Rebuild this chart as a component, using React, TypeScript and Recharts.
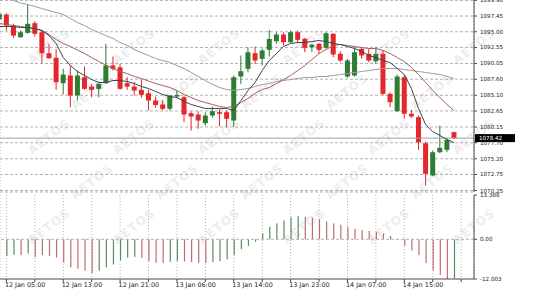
import React from 'react';
import { ComposedChart, Bar, Line, XAxis, YAxis, CartesianGrid, ReferenceLine } from 'recharts';

// ---- data (hourly bars, index 0 = 12 Jan 05:00) ----
const barIndex = [-1, 0, 1, 2, 3, 4, 5, 6, 7, 8, 9, 10, 11, 12, 13, 14, 15, 16, 17, 18, 19, 20, 21, 22, 23, 24, 25, 26, 27, 28, 29, 30, 31, 32, 33, 34, 35, 36, 37, 38, 39, 40, 41, 42, 43, 44, 45, 46, 47, 48, 49, 50, 51, 52, 53, 54, 55, 56, 57, 58, 59, 60, 61, 62, 63];

const opens = [1096.91, 1097.69, 1095.97, 1094.15, 1094.83, 1096.33, 1094.93, 1091.65, 1090.94, 1086.98,
  1088.18, 1085.06, 1087.91, 1086.46, 1086.10, 1086.98, 1089.74, 1089.47, 1086.98, 1086.46,
  1085.95, 1085.42, 1084.28, 1083.66, 1082.99, 1084.90, 1084.79, 1082.30, 1082.10, 1080.74,
  1081.94, 1082.46, 1082.46, 1081.16, 1088.02, 1089.22, 1091.65, 1090.78, 1092.18, 1093.52,
  1094.57, 1093.37, 1094.93, 1093.90, 1092.59, 1093.12, 1092.50, 1094.68, 1091.56, 1088.02,
  1088.18, 1092.34, 1091.56, 1090.41, 1091.56, 1085.32, 1082.61, 1087.91, 1082.21, 1081.68,
  1077.62, 1072.59, 1076.22, 1076.59, 1079.34];

const highs = [1098.00, 1097.89, 1096.24, 1095.19, 1099.24, 1096.64, 1095.30, 1093.12, 1092.34, 1089.22,
  1089.74, 1088.96, 1089.58, 1086.88, 1086.98, 1093.12, 1091.14, 1090.00, 1087.91, 1087.13,
  1087.51, 1085.95, 1084.90, 1084.39, 1085.10, 1085.84, 1085.06, 1082.61, 1082.61, 1082.46,
  1083.34, 1082.99, 1082.72, 1088.18, 1091.30, 1092.59, 1092.70, 1092.39, 1095.30, 1094.93,
  1094.93, 1095.19, 1095.19, 1094.05, 1093.12, 1093.21, 1094.93, 1094.77, 1091.97, 1090.78,
  1092.59, 1092.59, 1092.34, 1092.59, 1092.08, 1085.53, 1088.33, 1088.18, 1082.83, 1081.94,
  1077.89, 1076.49, 1080.38, 1078.40, 1079.45];

const lows = [1096.75, 1095.19, 1094.05, 1094.05, 1094.68, 1094.26, 1090.09, 1090.78, 1085.95, 1085.22,
  1083.24, 1084.28, 1085.95, 1084.79, 1084.79, 1086.88, 1088.96, 1085.95, 1085.95, 1085.06,
  1084.70, 1082.72, 1083.14, 1082.72, 1082.72, 1084.70, 1080.90, 1079.60, 1079.87, 1080.38,
  1081.58, 1080.23, 1080.12, 1080.12, 1086.88, 1088.69, 1090.00, 1089.74, 1091.14, 1093.12,
  1092.85, 1093.21, 1093.21, 1091.81, 1091.81, 1091.56, 1092.34, 1091.03, 1090.25, 1087.82,
  1088.02, 1090.78, 1090.25, 1090.00, 1085.06, 1083.24, 1082.46, 1081.43, 1081.58, 1076.59,
  1071.03, 1072.45, 1076.06, 1076.22, 1078.30];

const closes = [1097.80, 1095.97, 1094.41, 1094.93, 1096.24, 1094.68, 1091.65, 1090.87, 1087.13, 1088.33,
  1085.06, 1088.18, 1086.10, 1085.95, 1086.88, 1089.74, 1089.22, 1086.10, 1086.46, 1085.84,
  1085.17, 1084.28, 1083.58, 1082.99, 1085.06, 1085.14, 1082.10, 1081.79, 1081.16, 1081.94,
  1082.61, 1082.21, 1081.43, 1087.91, 1088.85, 1091.81, 1090.52, 1092.08, 1093.87, 1094.57,
  1093.37, 1094.93, 1093.74, 1092.50, 1092.96, 1092.18, 1094.77, 1091.45, 1090.52, 1090.52,
  1091.81, 1091.30, 1090.52, 1091.56, 1085.32, 1084.02, 1088.02, 1082.21, 1081.79, 1077.78,
  1072.85, 1076.22, 1076.91, 1078.15, 1078.42];

const maFast = [1095.82, 1095.82, 1095.82, 1095.66, 1095.66, 1095.50, 1095.19, 1094.41, 1093.17, 1090.98,
  1089.74, 1088.80, 1088.18, 1087.55, 1087.09, 1087.09, 1087.40, 1087.40, 1087.24, 1086.93,
  1086.46, 1086.15, 1085.69, 1085.22, 1084.90, 1084.75, 1084.13, 1083.66, 1083.35, 1083.03,
  1083.03, 1083.03, 1083.03, 1082.72, 1084.28, 1085.84, 1087.09, 1088.96, 1090.52, 1091.61,
  1092.70, 1093.17, 1093.32, 1093.32, 1093.48, 1093.63, 1093.48, 1093.17, 1093.01, 1092.70,
  1092.39, 1091.92, 1091.30, 1090.98, 1090.52, 1090.20, 1089.27, 1088.33, 1086.15, 1083.03,
  1080.54, 1079.45, 1078.83, 1078.20, 1077.73];

const maMid = [1096.28, 1096.13, 1095.97, 1095.82, 1095.66, 1095.50, 1095.19, 1094.57, 1093.79, 1093.17,
  1092.70, 1092.15, 1091.61, 1090.98, 1090.36, 1089.81, 1089.27, 1088.80, 1088.49, 1088.02,
  1087.71, 1087.32, 1086.93, 1086.62, 1086.31, 1085.84, 1085.22, 1084.75, 1084.28, 1083.97,
  1083.66, 1083.35, 1083.19, 1083.35, 1083.97, 1084.59, 1085.37, 1086.00, 1086.31, 1086.93,
  1087.55, 1088.18, 1088.96, 1089.74, 1090.67, 1091.61, 1092.23, 1092.85, 1093.01, 1092.85,
  1092.70, 1092.54, 1092.39, 1092.39, 1092.08, 1091.61, 1090.98, 1090.36, 1089.43, 1088.33,
  1087.09, 1085.84, 1084.75, 1083.66, 1082.72];

const maSlow = [1100.49, 1100.18, 1099.87, 1099.48, 1099.25, 1098.93, 1098.62, 1098.31, 1098.00, 1097.69,
  1097.06, 1096.44, 1095.97, 1095.35, 1094.88, 1094.41, 1093.95, 1093.32, 1092.85, 1092.23,
  1091.76, 1091.30, 1090.83, 1090.52, 1090.20, 1089.74, 1089.27, 1088.65, 1088.02, 1087.40,
  1086.78, 1086.31, 1086.00, 1085.84, 1086.00, 1086.15, 1086.46, 1086.78, 1086.93, 1087.24,
  1087.40, 1087.55, 1087.71, 1087.87, 1087.87, 1088.02, 1088.02, 1088.18, 1088.33, 1088.49,
  1088.65, 1088.80, 1088.96, 1089.11, 1089.27, 1089.27, 1089.27, 1089.11, 1088.96, 1088.80,
  1088.65, 1088.49, 1088.33, 1088.02, 1087.71];

const oscValues = [null, -5.0, -4.7, -4.8, -4.3, -5.4, -4.8, -5.0, -5.5, -7.1,
  -8.5, -8.9, -9.5, -10.2, -9.5, -8.5, -7.6, -6.4, -5.5, -5.3,
  -5.7, -6.6, -7.1, -7.2, -6.8, -6.5, -6.7, -6.9, -7.1, -7.2,
  -6.9, -6.6, -6.1, -4.7, -3.0, -2.0, -0.7, 1.8, 3.7, 4.8,
  5.7, 6.6, 7.0, 6.8, 6.5, 6.1, 5.4, 4.8, 4.4, 3.8,
  3.2, 2.8, 2.5, 2.2, 1.8, 1.0, 0.1, -1.9, -3.4, -4.8,
  -7.2, -9.4, -10.8, -12.0, -11.9];

const oscColors = ['g', 'g', 'g', 'r', 'g', 'r', 'r', 'r', 'r', 'r',
  'r', 'r', 'r', 'r', 'g', 'g', 'g', 'g', 'g', 'g',
  'r', 'r', 'r', 'r', 'g', 'g', 'r', 'r', 'r', 'r',
  'g', 'g', 'g', 'g', 'g', 'g', 'g', 'g', 'g', 'g',
  'g', 'g', 'g', 'r', 'r', 'r', 'r', 'r', 'r', 'r',
  'r', 'r', 'r', 'r', 'r', 'r', 'r', 'r', 'r', 'r',
  'r', 'r', 'r', 'r', 'g'];

const priceTicks = [1099.90, 1097.45, 1095.00, 1092.55, 1090.05, 1087.60, 1085.10, 1082.65, 1080.15, 1077.70, 1075.20, 1072.75, 1070.25];
const oscTicks = [13.388, 0, -12.003];
const oscTickLabels = ['13.388', '0.00', '-12.003'];
const gridTicks = [0, 4, 8, 12, 16, 20, 24, 28, 32, 36, 40, 44, 48, 52, 56, 60, 64];
const timeLabels = ['12 Jan 05:00', '12 Jan 13:00', '12 Jan 21:00', '13 Jan 06:00', '13 Jan 14:00', '13 Jan 23:00', '14 Jan 07:00', '14 Jan 15:00'];
const lastPrice = 1078.42;

// ---- styling ----
const FONT = '"DejaVu Sans", "Liberation Sans", sans-serif';
const X_DOMAIN: [number, number] = [-0.903, 65.806];
const PRICE_DOMAIN: [number, number] = [1070.02, 1099.95];
const OSC_DOMAIN: [number, number] = [-12.003, 13.388];
const UP = '#2e7d32';
const DOWN = '#e5262b';
const OSC_UP = '#5b8c5b';
const OSC_DOWN = '#c06c6c';
const GRID = '#b2b2b2';
const AXIS = '#4a4a4a';

const candleData = barIndex.map((i, k) => ({
  i,
  open: opens[k],
  high: highs[k],
  low: lows[k],
  close: closes[k],
  range: [lows[k], highs[k]],
  fast: maFast[k],
  mid: maMid[k],
  slow: maSlow[k],
}));

const oscData = barIndex.map((i, k) => ({ i, osc: oscValues[k], col: oscColors[k] }));

const Candle = (props: any) => {
  const { x, y, width, height, payload } = props;
  if (x == null || y == null || !payload) return null;
  const { open, close, high, low } = payload;
  const span = high - low;
  const ppu = span > 0 ? height / span : 0;
  const yOf = (v: number) => y + (high - v) * ppu;
  const cx = x + width / 2;
  const color = close >= open ? UP : DOWN;
  const top = yOf(Math.max(open, close));
  const bot = yOf(Math.min(open, close));
  return (
    <g>
      <line x1={cx} x2={cx} y1={y} y2={y + height} stroke={color} strokeWidth={1} />
      <rect x={cx - 2.5} y={top} width={5} height={Math.max(1, bot - top)} fill={color} />
    </g>
  );
};

const OscBar = (props: any) => {
  const { x, y, width, height, payload } = props;
  if (x == null || y == null || !payload || payload.osc == null) return null;
  const top = Math.min(y, y + height);
  const h = Math.max(0.6, Math.abs(height));
  const cx = x + width / 2;
  return <rect x={cx - 0.6} y={top} width={1.2} height={h} fill={payload.col === 'g' ? OSC_UP : OSC_DOWN} />;
};

const PriceTag = (props: any) => {
  const { viewBox, text } = props;
  if (!viewBox) return null;
  const x = viewBox.x + viewBox.width + 1;
  const y = viewBox.y;
  return (
    <g>
      <rect x={x} y={y - 4} width={40} height={8} fill="#000" />
      <text x={x + 4} y={y + 2} fontSize={5.6} fill="#fff" fontFamily={FONT}>{text}</text>
    </g>
  );
};

const TimeTick = (props: any) => {
  const { x, y, payload } = props;
  const v = payload && payload.value;
  if (v == null || v % 8 !== 0) return null;
  const label = timeLabels[v / 8];
  if (!label) return null;
  return (
    <text x={x - 1.5} y={y + 4.5} fontSize={6.4} fill="#222" fontFamily={FONT} textAnchor="start">{label}</text>
  );
};

const Watermark = () => {
  const marks: React.ReactNode[] = [];
  for (let r = 0; r < 7; r++) {
    for (let c = 0; c < 7; c++) {
      const x = -10 + c * 85 + (r % 2) * 42;
      const y = 20 + r * 45;
      if (x < 3 || x + 38 > 512 || y - 30 < 3 || y > 276) continue;
      marks.push(
        <text key={`${r}-${c}`} x={x} y={y} fontSize={12} fontWeight="bold" fill="#ededed" fontFamily={FONT}
          transform={`rotate(-38 ${x} ${y})`} letterSpacing={1}>AETOS</text>
      );
    }
  }
  return (
    <svg width={560} height={289} style={{ position: 'absolute', left: 0, top: 0 }}>{marks}</svg>
  );
};

export default function App() {
  return (
    <div style={{ position: 'absolute', left: 0, top: 0, width: 560, height: 289, background: '#fff', overflow: 'hidden' }}>
      <Watermark />
      <div style={{ position: 'absolute', left: 0, top: 0 }}>
        <ComposedChart width={560} height={193} data={candleData} margin={{ top: 0, right: 43, bottom: 1, left: 0 }}>
          <CartesianGrid horizontal vertical={false} stroke={GRID} strokeDasharray="3 2" />
          <CartesianGrid horizontal={false} vertical stroke={GRID} strokeDasharray="1 2" />
          <XAxis dataKey="i" type="number" domain={X_DOMAIN} allowDataOverflow ticks={gridTicks} interval={0}
            tick={false} tickLine={false} height={0} axisLine={{ stroke: '#8c8c8c', strokeWidth: 3 }} />
          <YAxis orientation="right" type="number" domain={PRICE_DOMAIN} allowDataOverflow ticks={priceTicks} interval={0}
            width={43} tickFormatter={(v: number) => v.toFixed(2)} tickSize={3} tickMargin={3}
            tick={{ fontSize: 5.6, fill: '#222', fontFamily: FONT }} tickLine={{ stroke: AXIS }} axisLine={{ stroke: AXIS }} />
          <ReferenceLine y={lastPrice} stroke="#a0a0a0" strokeWidth={1} label={<PriceTag text={lastPrice.toFixed(2)} />} />
          <Bar dataKey="range" shape={<Candle />} barSize={5} isAnimationActive={false} />
          <Line type="linear" dataKey="slow" stroke="#9c9c9c" strokeWidth={1} dot={false} activeDot={false} isAnimationActive={false} />
          <Line type="linear" dataKey="mid" stroke="#a4605c" strokeWidth={1} dot={false} activeDot={false} isAnimationActive={false} />
          <Line type="linear" dataKey="fast" stroke="#3c4452" strokeWidth={1} dot={false} activeDot={false} isAnimationActive={false} />
        </ComposedChart>
      </div>
      <div style={{ position: 'absolute', left: 0, top: 193 }}>
        <ComposedChart width={560} height={96} data={oscData} margin={{ top: 2, right: 43, bottom: 0, left: 0 }}>
          <CartesianGrid horizontal={false} vertical stroke={GRID} strokeDasharray="1 2" />
          <XAxis dataKey="i" type="number" domain={X_DOMAIN} allowDataOverflow ticks={gridTicks} interval={0}
            height={10} tick={<TimeTick />} tickSize={3} tickMargin={0} tickLine={{ stroke: AXIS }} axisLine={{ stroke: AXIS }} />
          <YAxis orientation="right" type="number" domain={OSC_DOMAIN} allowDataOverflow ticks={oscTicks} interval={0}
            width={43} tickFormatter={(v: number) => oscTickLabels[oscTicks.indexOf(v)] ?? String(v)} tickSize={3} tickMargin={3}
            tick={{ fontSize: 5.6, fill: '#222', fontFamily: FONT }} tickLine={{ stroke: AXIS }} axisLine={{ stroke: AXIS }} />
          <ReferenceLine y={0} stroke={GRID} strokeDasharray="3 2" />
          <Bar dataKey="osc" shape={<OscBar />} barSize={2} isAnimationActive={false} />
        </ComposedChart>
      </div>
    </div>
  );
}
